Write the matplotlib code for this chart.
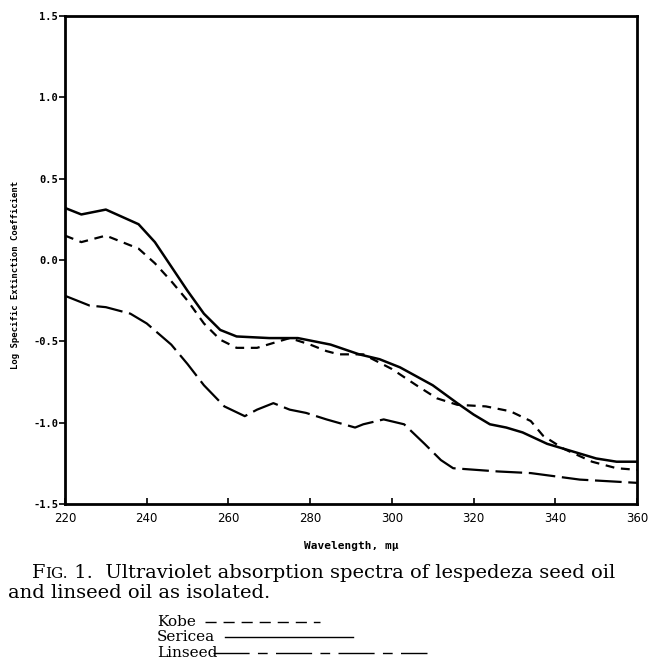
#!/usr/bin/env python3
# Espectros UV de aceites de lespedeza y linaza (Fig. 1)
import matplotlib
matplotlib.use('Agg')
import matplotlib.pyplot as plt
from matplotlib.lines import Line2D

# Kobe (guiones cortos)
kobe_nm = [220, 224, 230, 238, 242, 246, 250, 254, 258, 262, 267, 271, 275, 280, 284, 287,
           293, 300, 306, 311, 316, 323, 329, 334, 337, 342, 349, 355, 360]
kobe_val = [0.15, 0.11, 0.15, 0.07, -0.02, -0.13, -0.25, -0.39, -0.49, -0.54, -0.54, -0.51, -0.48,
            -0.52, -0.56, -0.58, -0.58, -0.67, -0.77, -0.85, -0.89, -0.90, -0.93, -0.99, -1.08,
            -1.16, -1.24, -1.28, -1.29]

# Sericea (linea continua)
sericea_nm = [220, 224, 230, 238, 242, 246, 250, 254, 258, 262, 270, 277, 285, 292, 297, 302,
              310, 316, 320, 324, 328, 332, 338, 342, 350, 355, 360]
sericea_val = [0.32, 0.28, 0.31, 0.22, 0.11, -0.04, -0.19, -0.33, -0.43, -0.47, -0.48, -0.48,
               -0.52, -0.58, -0.61, -0.66, -0.77, -0.88, -0.95, -1.01, -1.03, -1.06, -1.13,
               -1.16, -1.22, -1.24, -1.24]

# Linseed (guiones largos)
linseed_nm = [220, 226, 230, 236, 240, 246, 250, 254, 259, 264, 267, 271, 275, 279, 284, 291,
              293, 298, 303, 308, 312, 315, 326, 334, 346, 360]
linseed_val = [-0.22, -0.28, -0.29, -0.33, -0.39, -0.52, -0.64, -0.77, -0.90, -0.96, -0.92, -0.88,
               -0.92, -0.94, -0.98, -1.03, -1.01, -0.98, -1.01, -1.13, -1.23, -1.28, -1.30, -1.31,
               -1.35, -1.37]

xticks = [220, 240, 260, 280, 300, 320, 340, 360]
yticks = [-1.5, -1.0, -0.5, 0.0, 0.5, 1.0, 1.5]

W, H = 650, 660
fig = plt.figure(figsize=(6.5, 6.6), dpi=100)
ax = fig.add_axes([65 / W, 1 - 504 / H, (637 - 65) / W, (504 - 16) / H])

ax.plot(kobe_nm, kobe_val, color='black', lw=1.6, dashes=(4, 3))
ax.plot(sericea_nm, sericea_val, color='black', lw=1.8)
ax.plot(linseed_nm, linseed_val, color='black', lw=1.6, dashes=(12, 3))

ax.set_xlim(220, 360)
ax.set_ylim(-1.5, 1.5)
ax.set_xticks(xticks)
ax.set_yticks(yticks)
ax.set_xticklabels([str(t) for t in xticks], family='DejaVu Sans', fontsize=8.5)
ax.set_yticklabels(['%.1f' % t for t in yticks], family='DejaVu Sans Mono', fontsize=7.5,
                   fontweight='bold')
ax.tick_params(axis='x', direction='in', length=4, width=1.2, pad=6)
ax.tick_params(axis='y', direction='out', length=4, width=1.2, pad=1)
for s in ax.spines.values():
    s.set_linewidth(2)

ax.set_ylabel('Log Specific Extinction Coefficient', family='DejaVu Sans Mono',
              fontsize=6.5, fontweight='bold')
ax.yaxis.set_label_coords(-0.079, 0.469)
ax.set_xlabel('Wavelength, m\u03bc', family='DejaVu Sans Mono', fontsize=8,
              fontweight='bold', labelpad=11)

# pie de figura (FIG en versalitas)
serif = 'DejaVu Serif'
rend = fig.canvas.get_renderer()
x = 32
for piece, size in [('F', 14), ('IG.', 11), (' 1.  Ultraviolet absorption spectra of lespedeza seed oil', 14)]:
    t = fig.text(x / W, 1 - 578 / H, piece, family=serif, fontsize=size, va='baseline')
    x = t.get_window_extent(rend).x1
fig.text(8 / W, 1 - 598 / H, 'and linseed oil as isolated.', family=serif, fontsize=14,
         va='baseline')

# leyenda
legend_rows = [('Kobe', 622, 205, 320, (8, 5)),
               ('Sericea', 637, 225, 353, None),
               ('Linseed', 653, 213, 427, (26, 6, 7, 6))]
for name, ypx, x0, x1, dash in legend_rows:
    fig.text(157 / W, 1 - (ypx + 4) / H, name, family=serif, fontsize=11, va='baseline')
    ln = Line2D([x0 / W, x1 / W], [1 - ypx / H, 1 - ypx / H], color='black', lw=1.0,
                transform=fig.transFigure)
    if dash:
        ln.set_dashes(dash)
    fig.add_artist(ln)

fig.savefig('out.png', dpi=100)
